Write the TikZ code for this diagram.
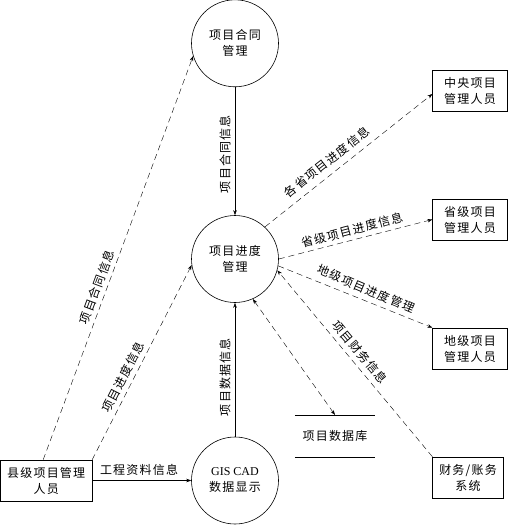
\documentclass[tikz,border=0pt]{standalone}
\usepackage{fontspec}
\setmainfont{Liberation Serif}
\newfontfamily\cjk{Noto Sans CJK SC}[LetterSpace=10]
\usetikzlibrary{arrows.meta}
\begin{document}
\begin{tikzpicture}[x=1pt,y=-1pt,
  txt/.style={font=\cjk\fontsize{12}{16}\selectfont},
  proc/.style={circle, draw, line width=0.6pt, minimum size=87pt, inner sep=0pt, align=center, txt},
  ent/.style={draw, line width=0.6pt, minimum width=74.6pt, minimum height=41pt, inner sep=0pt, align=center, txt},
  flow/.style={line width=0.4pt, -{Stealth[length=5pt,width=3.5pt]}},
  dflow/.style={flow, dash pattern=on 6pt off 4pt},
  lab/.style={txt, inner sep=0pt}]
\useasboundingbox (0,0) rectangle (508,525);
% processes
\node[proc] (ht) at (235,43.3) {项目合同\\管理};
\node[proc] (jd) at (235,259) {项目进度\\管理};
\node[proc] (gis) at (235,480.5) {{\rmfamily GIS CAD}\\数据显示};
% entities
\node[ent] (zy) at (470,90.5) {中央项目\\管理人员};
\node[ent] (sj) at (470,219.5) {省级项目\\管理人员};
\node[ent] (dj) at (470,348.5) {地级项目\\管理人员};
\node[ent, minimum width=70.6pt] (cw) at (468,477.5) {财务/账务\\系统};
\node[ent, minimum width=91.4pt] (xj) at (46.2,480.5) {县级项目管理\\人员};
% data store
\node[lab, minimum width=80pt, minimum height=41.7pt] (db) at (335,436) {项目数据库};
\draw[line width=0.6pt] (db.north west) -- (db.north east);
\draw[line width=0.6pt] (db.south west) -- (db.south east);
% flows
\draw[flow] (ht) -- (jd);
\draw[dflow] ([xshift=-3pt]xj.north) -- (ht.197.5);
\draw[dflow] (xj.north east) -- (jd.188);
\draw[flow] (xj.east) -- (gis.west);
\draw[flow] (gis) -- (jd);
\draw[dflow] (jd.47) -- ([yshift=-3.5pt]zy.west);
\draw[dflow] (jd.0) -- (sj.west);
\draw[dflow] (jd.-9) -- (dj.north west);
\draw[dflow, {Stealth[length=5pt,width=3.5pt]}-{Stealth[length=5pt,width=3.5pt]}] (jd.-66) -- (db.north);
\draw[dflow] (cw.north west) -- (jd.-15);
% labels
\node[lab, rotate=90] (l1) at (225,154) {项目合同信息};
\node[lab, rotate=90] (l2) at (225,377) {项目数据信息};
\node[lab, rotate=69.7] (l3) at (97,287) {项目合同信息};
\node[lab, rotate=63.1] (l4) at (123,377) {项目进度信息};
\node[lab] (l5) at (139,470) {工程资料信息};
\node[lab, rotate=38.4] (l6) at (327,162) {各省项目进度信息};
\node[lab, rotate=14.7] (l7) at (352,230) {省级项目进度信息};
\node[lab, rotate=-23] (l8) at (366,289) {地级项目进度管理};
\node[lab, rotate=-50] (l9) at (360,352) {项目财务信息};
\end{tikzpicture}
\end{document}
